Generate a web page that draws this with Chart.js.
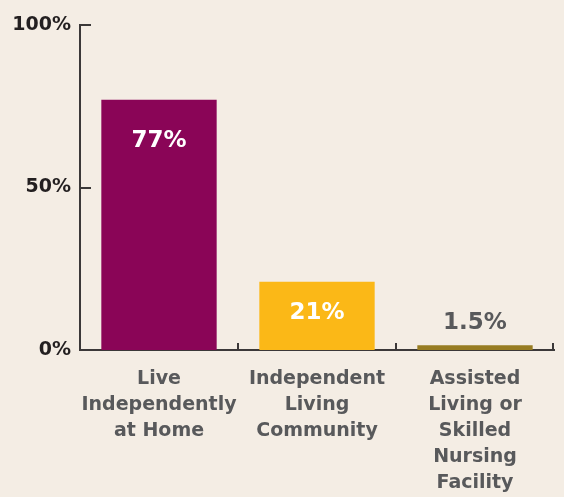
<!DOCTYPE html>
<html>
<head>
<meta charset="utf-8">
<script src="https://cdn.jsdelivr.net/npm/chart.js@4"></script>
<style>
  html, body { margin: 0; padding: 0; background: #f4ede4; }
  #wrap { width: 564px; height: 497px; position: relative; }
</style>
</head>
<body>
<div id="wrap"><canvas id="c"></canvas></div>
<script>
const categories = [
  ["Live", "Independently", "at Home"],
  ["Independent", "Living", "Community"],
  ["Assisted", "Living or", "Skilled", "Nursing", "Facility"]
];
const values = [77, 21, 1.5];
const valueLabels = ["77%", "21%", "1.5%"];
const yTicks = [0, 50, 100];
const barColors = ["#8a0557", "#fbb817", "#977c22"];

const FONT = "'DejaVu Sans', sans-serif";
const AXIS = "#3b3838";

const customPlugin = {
  id: 'custom',
  afterDraw(chart, args, opts) {
    const ctx = chart.ctx;
    const x = chart.scales.x, y = chart.scales.y;
    ctx.save();
    ctx.strokeStyle = AXIS;
    ctx.lineWidth = 2;
    // y ticks pointing inward
    yTicks.forEach(v => {
      if (v === 0) return;
      const py = Math.round(y.getPixelForValue(v));
      ctx.beginPath();
      ctx.moveTo(x.left, py);
      ctx.lineTo(x.left + 11, py);
      ctx.stroke();
    });
    // x ticks at category boundaries, pointing up
    for (let i = 1; i <= categories.length; i++) {
      const px = (x.getPixelForValue(i - 1) + x.getPixelForValue(Math.min(i, categories.length - 1))) / 2;
      const bx = i === categories.length ? x.right - 1 : px;
      const py = y.getPixelForValue(0);
      ctx.beginPath();
      ctx.moveTo(bx, py);
      ctx.lineTo(bx, py - 7);
      ctx.stroke();
    }
    // value labels
    const meta = chart.getDatasetMeta(0);
    ctx.font = "bold 23px " + FONT;
    ctx.textAlign = 'center';
    ctx.textBaseline = 'middle';
    meta.data.forEach((bar, i) => {
      ctx.fillStyle = opts.colors[i];
      ctx.fillText(valueLabels[i], bar.x, bar.y + opts.offsets[i]);
    });
    ctx.restore();
  }
};

new Chart(document.getElementById('c'), {
  type: 'bar',
  data: {
    labels: categories,
    datasets: [{
      data: values,
      backgroundColor: barColors,
      borderWidth: 0,
      categoryPercentage: 0.73,
      barPercentage: 1.0
    }]
  },
  options: {
    responsive: true,
    maintainAspectRatio: false,
    animation: false,
    devicePixelRatio: 1,
    layout: { padding: { top: 25, right: 10, left: 0, bottom: 0 } },
    plugins: {
      legend: { display: false },
      tooltip: { enabled: false },
      custom: { offsets: [41, 31, -22], colors: ["#ffffff", "#ffffff", "#58595b"] }
    },
    scales: {
      x: {
        offset: true,
        grid: { display: false, drawTicks: false },
        border: { display: true, color: AXIS, width: 2 },
        ticks: {
          color: "#58595b",
          font: { family: FONT, size: 19, weight: 'bold', lineHeight: '26px' },
          padding: 16,
          maxRotation: 0,
          autoSkip: false
        },
        afterFit(scale) { scale.height = 147; }
      },
      y: {
        min: 0, max: 100,
        afterBuildTicks(scale) { scale.ticks = yTicks.map(v => ({ value: v })); },
        grid: { display: false, drawTicks: false },
        border: { display: true, color: AXIS, width: 2 },
        ticks: {
          color: "#231f20",
          font: { family: FONT, size: 19, weight: 'bold' },
          padding: 9,
          callback: v => v + "%"
        },
        afterFit(scale) { scale.width = 80; }
      }
    }
  },
  plugins: [customPlugin]
});
</script>
</body>
</html>
